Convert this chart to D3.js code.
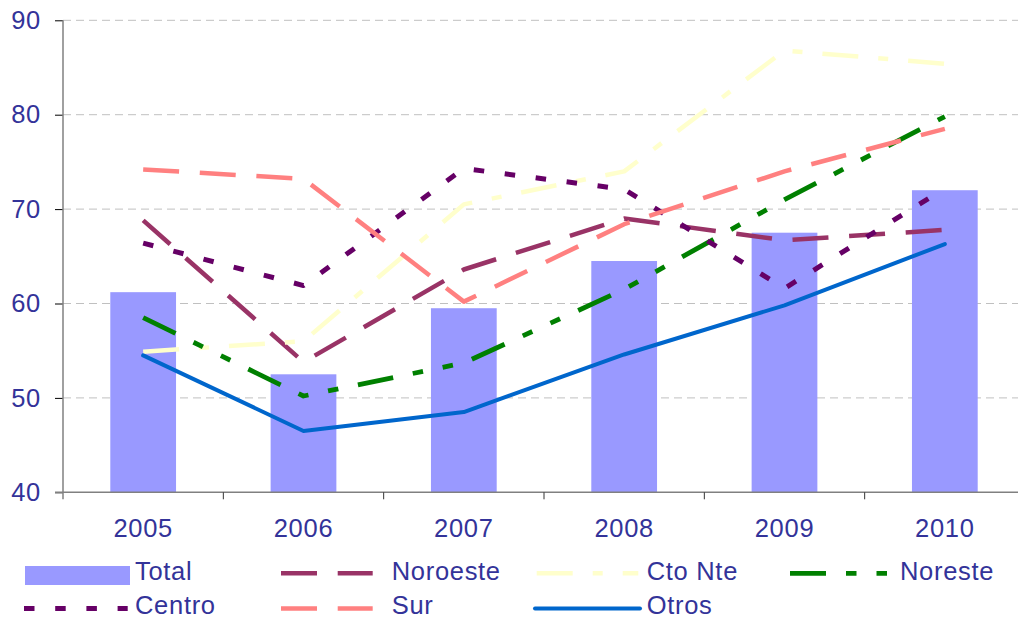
<!DOCTYPE html>
<html>
<head>
<meta charset="utf-8">
<script src="https://cdn.jsdelivr.net/npm/d3@7"></script>
<style>
  html, body { margin: 0; padding: 0; background: #fff; }
  svg { display: block; }
  text { font-family: "Liberation Sans", Arial, sans-serif; fill: #333399; }
</style>
</head>
<body>
<div id="chart"></div>
<script>
// Categories and series values
const years    = ["2005", "2006", "2007", "2008", "2009", "2010"];
const total    = [61.2, 52.5, 59.5, 64.5, 67.5, 72.0];
const noroeste = [68.8, 53.8, 63.6, 69.0, 66.7, 67.8];
const ctoNte   = [54.9, 56.0, 70.5, 74.0, 86.8, 85.4];
const noreste  = [58.5, 50.2, 53.7, 61.5, 71.0, 79.8];
const centro   = [66.4, 61.9, 74.3, 72.1, 61.6, 72.2];
const sur      = [74.2, 73.2, 60.2, 68.4, 74.0, 78.5];
const otros    = [54.5, 46.5, 48.5, 54.6, 59.8, 66.3];
const yTicks   = [40, 50, 60, 70, 80, 90];

const W = 1018, H = 618;
const plot = { left: 63, right: 1025, top: 20.3, bottom: 492.3 };
const FS = 25.5, LS = "0.7px";

const svg = d3.select("#chart").append("svg")
  .attr("width", W).attr("height", H);

const x = d3.scaleBand().domain(years).range([plot.left, plot.right]).padding(0);
const y = d3.scaleLinear().domain([40, 90]).range([plot.bottom, plot.top]);
const cx = d => x(d) + x.bandwidth() / 2;

// Horizontal grid lines
svg.append("g").selectAll("line")
  .data(yTicks.filter(t => t > 40))
  .join("line")
  .attr("x1", plot.left).attr("x2", plot.right)
  .attr("y1", d => y(d)).attr("y2", d => y(d))
  .attr("stroke", "#c0c0c0").attr("stroke-width", 1)
  .attr("stroke-dasharray", "8,5");

// Bars (Total)
const barW = x.bandwidth() * 0.41;
svg.append("g").selectAll("rect")
  .data(years.map((yr, i) => ({ yr, v: total[i] })))
  .join("rect")
  .attr("x", d => cx(d.yr) - barW / 2)
  .attr("width", barW)
  .attr("y", d => y(d.v))
  .attr("height", d => y(40) - y(d.v))
  .attr("fill", "#9999ff");

// Line series
const series = [
  { name: "Noroeste", values: noroeste, color: "#993366", width: 4.5, dash: "36,20.7" },
  { name: "Cto Nte",  values: ctoNte,   color: "#ffffcc", width: 4.5, dash: "36,20,10,20" },
  { name: "Noreste",  values: noreste,  color: "#008000", width: 4.8, dash: "36,20,10.5,20,10.5,20" },
  { name: "Centro",   values: centro,   color: "#660066", width: 5,   dash: "10.5,20.7" },
  { name: "Sur",      values: sur,      color: "#ff8080", width: 4.5, dash: "36,20.7" },
  { name: "Otros",    values: otros,    color: "#0066cc", width: 4,   dash: null }
];

const line = d3.line().x((d, i) => cx(years[i])).y(d => y(d));

svg.append("g").selectAll("path")
  .data(series)
  .join("path")
  .attr("d", s => line(s.values))
  .attr("fill", "none")
  .attr("stroke", s => s.color)
  .attr("stroke-width", s => s.width)
  .attr("stroke-linejoin", "round")
  .attr("stroke-linecap", s => s.dash ? "butt" : "round")
  .attr("stroke-dasharray", s => s.dash);

// Axes
const axisColor = "#808080";
const yAxis = svg.append("g").attr("transform", `translate(${plot.left},0)`)
  .call(d3.axisLeft(y).tickValues(yTicks).tickSize(8).tickPadding(14).tickFormat(d3.format("d")));
yAxis.select(".domain").remove();
yAxis.selectAll(".tick line").attr("stroke", "#000").attr("stroke-width", 1);
yAxis.selectAll(".tick text")
  .attr("font-size", FS).attr("letter-spacing", LS)
  .attr("font-family", "'Liberation Sans', Arial, sans-serif")
  .attr("fill", "#333399");

svg.append("line")
  .attr("x1", plot.left).attr("x2", plot.left)
  .attr("y1", plot.top).attr("y2", plot.bottom + 7)
  .attr("stroke", axisColor).attr("stroke-width", 1.5);

svg.append("line")
  .attr("x1", plot.left - 8).attr("x2", plot.right)
  .attr("y1", plot.bottom).attr("y2", plot.bottom)
  .attr("stroke", axisColor).attr("stroke-width", 1.5);

// Category boundary ticks
svg.append("g").selectAll("line")
  .data(years.slice(1))
  .join("line")
  .attr("x1", d => x(d)).attr("x2", d => x(d))
  .attr("y1", plot.bottom).attr("y2", plot.bottom + 7)
  .attr("stroke", "#333").attr("stroke-width", 1);

// Category labels
svg.append("g").selectAll("text")
  .data(years)
  .join("text")
  .attr("x", d => cx(d))
  .attr("y", 536.7)
  .attr("text-anchor", "middle")
  .attr("font-size", FS)
  .attr("letter-spacing", LS)
  .text(d => d);

// Legend
const legendItems = [
  { name: "Total",    type: "bar",  x0: 25,  x1: 130,   tx: 135,   row: 0 },
  { name: "Noroeste", type: "line", x0: 281, x1: 372.7, tx: 391.7, row: 0, s: series[0] },
  { name: "Cto Nte",  type: "line", x0: 536.7, x1: 638.3, tx: 646.7, row: 0, s: series[1] },
  { name: "Noreste",  type: "line", x0: 790, x1: 887.7, tx: 900,   row: 0, s: series[2] },
  { name: "Centro",   type: "line", x0: 24,  x1: 127.7, tx: 135,   row: 1, s: series[3] },
  { name: "Sur",      type: "line", x0: 281, x1: 372.7, tx: 391.7, row: 1, s: series[4] },
  { name: "Otros",    type: "line", x0: 535, x1: 640,   tx: 646.7, row: 1, s: series[5] }
];
const rowBase = [580, 613.5];
const rowMid = [573.3, 608.5];

const lg = svg.append("g");
legendItems.forEach(it => {
  if (it.type === "bar") {
    lg.append("rect")
      .attr("x", it.x0).attr("width", it.x1 - it.x0)
      .attr("y", 566).attr("height", 19)
      .attr("fill", "#9999ff");
  } else {
    lg.append("line")
      .attr("x1", it.x0).attr("x2", it.x1)
      .attr("y1", rowMid[it.row]).attr("y2", rowMid[it.row])
      .attr("stroke", it.s.color)
      .attr("stroke-width", it.s.width)
      .attr("stroke-linecap", it.s.dash ? "butt" : "round")
      .attr("stroke-dasharray", it.s.dash);
  }
  lg.append("text")
    .attr("x", it.tx).attr("y", rowBase[it.row])
    .attr("font-size", FS).attr("letter-spacing", LS)
    .text(it.name);
});
</script>
</body>
</html>
